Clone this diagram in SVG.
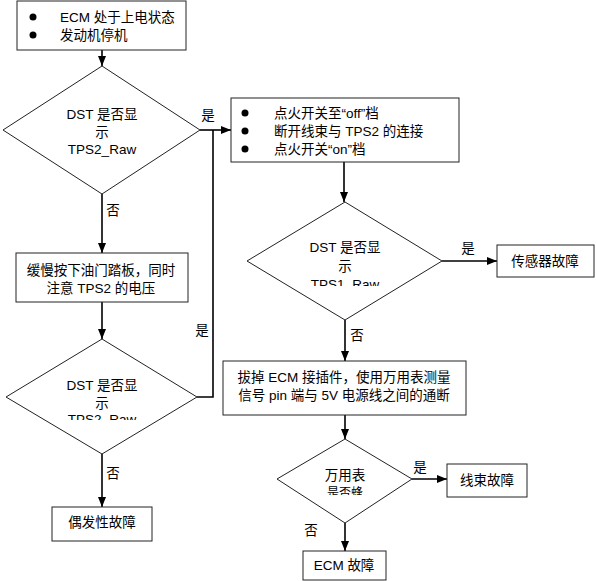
<svg xmlns="http://www.w3.org/2000/svg" width="597" height="581" viewBox="0 0 597 581">
<style>
text{font-family:"Liberation Sans","Noto Sans CJK SC",sans-serif;font-size:13.5px;fill:#000}
.c{text-anchor:middle}
.box{fill:#fff;stroke:#222;stroke-width:1}
.ln{fill:none;stroke:#000;stroke-width:1.6}
</style>
<defs>
<marker id="ah" markerWidth="10" markerHeight="8" refX="10" refY="4" orient="auto" markerUnits="userSpaceOnUse">
<path d="M0,0 L10,4 L0,8 Z" fill="#000"/>
</marker>
<clipPath id="cl2"><rect x="240" y="200" width="210" height="86"/></clipPath>
<clipPath id="cl3"><rect x="0" y="330" width="210" height="90"/></clipPath>
<clipPath id="cl4"><rect x="270" y="430" width="150" height="65"/></clipPath>
</defs>
<rect width="597" height="581" fill="#fff"/>
<g id="connectors">
<path class="ln" d="M102,50 V66" marker-end="url(#ah)"/>
<path class="ln" d="M200,130 H231" marker-end="url(#ah)"/>
<path class="ln" d="M197,397 H213 V130"/>
<path class="ln" d="M102,194 V253" marker-end="url(#ah)"/>
<path class="ln" d="M102,302 V339" marker-end="url(#ah)"/>
<path class="ln" d="M102,454 V507" marker-end="url(#ah)"/>
<path class="ln" d="M344,162 V202" marker-end="url(#ah)"/>
<path class="ln" d="M442,261 H497" marker-end="url(#ah)"/>
<path class="ln" d="M345,320 V361" marker-end="url(#ah)"/>
<path class="ln" d="M345,415 V439" marker-end="url(#ah)"/>
<path class="ln" d="M412,479 H447" marker-end="url(#ah)"/>
<path class="ln" d="M345,523 V551" marker-end="url(#ah)"/>
<text x="208" y="120" class="c">是</text>
<text x="113" y="215" class="c">否</text>
<text x="202" y="335" class="c">是</text>
<text x="113" y="478" class="c">否</text>
<text x="468" y="253" class="c">是</text>
<text x="357" y="340" class="c">否</text>
<text x="420" y="472" class="c">是</text>
<text x="311" y="535" class="c">否</text>
</g>
<g id="n1">
<rect class="box" x="17" y="1" width="169" height="49"/>
<circle cx="33" cy="17" r="3.5"/>
<circle cx="33" cy="35" r="3.5"/>
<text x="60" y="22">ECM 处于上电状态</text>
<text x="60" y="40">发动机停机</text>
</g>
<g id="d1">
<polygon class="box" points="102,66 200,130 102,194 3,130"/>
<text x="102" y="119" class="c">DST 是否显</text>
<text x="102" y="137" class="c">示</text>
<text x="102" y="154" class="c">TPS2_Raw</text>
</g>
<g id="n2">
<rect class="box" x="231" y="98" width="228" height="64"/>
<circle cx="245" cy="113" r="3.5"/>
<circle cx="245" cy="131" r="3.5"/>
<circle cx="245" cy="149" r="3.5"/>
<text x="274" y="118">点火开关至“off”档</text>
<text x="274" y="136">断开线束与 TPS2 的连接</text>
<text x="274" y="154">点火开关“on”档</text>
</g>
<g id="d2">
<polygon class="box" points="345,202 442,261 345,320 247,261"/>
<text x="345" y="252" class="c">DST 是否显</text>
<text x="345" y="271" class="c">示</text>
<text x="345" y="289" class="c" clip-path="url(#cl2)">TPS1_Raw</text>
</g>
<g id="n3">
<rect class="box" x="497" y="245" width="97" height="32"/>
<text x="545" y="266" class="c">传感器故障</text>
</g>
<g id="n4">
<rect class="box" x="16" y="253" width="172" height="49"/>
<text x="101" y="275" class="c">缓慢按下油门踏板，同时</text>
<text x="101" y="293" class="c">注意 TPS2 的电压</text>
</g>
<g id="d3">
<polygon class="box" points="102,339 197,397 102,454 6,397"/>
<text x="102" y="390" class="c">DST 是否显</text>
<text x="102" y="408" class="c">示</text>
<text x="102" y="424" class="c" clip-path="url(#cl3)">TPS2_Raw</text>
</g>
<g id="n5">
<rect class="box" x="52" y="507" width="100" height="34"/>
<text x="102" y="527" class="c">偶发性故障</text>
</g>
<g id="n6">
<rect class="box" x="223" y="361" width="243" height="54"/>
<text x="344" y="382" class="c">拔掉 ECM 接插件，使用万用表测量</text>
<text x="344" y="400" class="c">信号 pin 端与 5V 电源线之间的通断</text>
</g>
<g id="d4">
<polygon class="box" points="345,439 412,479 345,523 277,479"/>
<text x="345" y="480" class="c">万用表</text>
<text x="345" y="497" class="c" style="font-size:12px" clip-path="url(#cl4)">是否蜂</text>
</g>
<g id="n7">
<rect class="box" x="447" y="464" width="80" height="33"/>
<text x="487" y="485" class="c">线束故障</text>
</g>
<g id="n8">
<rect class="box" x="303" y="551" width="83" height="29"/>
<text x="344" y="570" class="c">ECM 故障</text>
</g>
</svg>
